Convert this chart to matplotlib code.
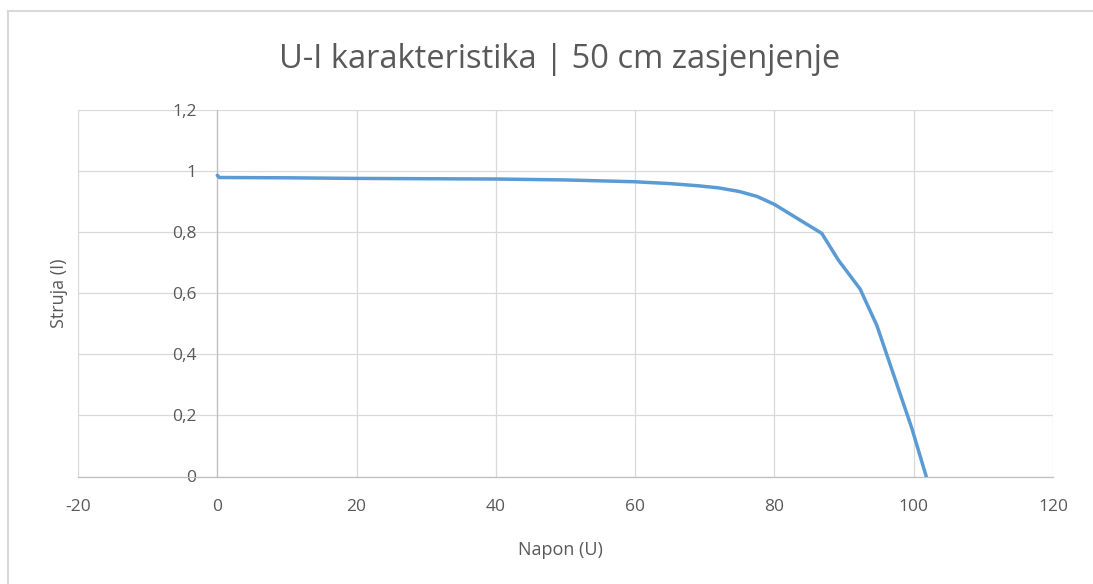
import matplotlib
matplotlib.use("Agg")
import matplotlib.pyplot as plt
from matplotlib.lines import Line2D

# Data
napon_U = [0, 0.3, 10, 20, 30, 40, 50, 60, 65, 69, 72, 75, 77.5, 80, 83.5, 86.8, 89.2, 92.3, 94.7, 99.7, 101.8]
struja_I = [0.986, 0.979, 0.978, 0.976, 0.975, 0.974, 0.971, 0.965, 0.959, 0.952, 0.945, 0.933, 0.917, 0.891,
            0.842, 0.796, 0.708, 0.614, 0.495, 0.16, 0.0]
x_ticks = [-20, 0, 20, 40, 60, 80, 100, 120]
y_ticks = [0, 0.2, 0.4, 0.6, 0.8, 1.0, 1.2]
y_tick_labels = ["0", "0,2", "0,4", "0,6", "0,8", "1", "1,2"]
title = "U-I karakteristika | 50 cm zasjenjenje"
x_label = "Napon (U)"
y_label = "Struja (I)"

plt.rcParams['font.family'] = ['Open Sans', 'DejaVu Sans']
W, H = 1093, 584
fig = plt.figure(figsize=(W / 100, H / 100), dpi=100)
fig.patch.set_facecolor("white")

# chart border (outer frame)
bc = "#d9d9d9"
fig.add_artist(Line2D([7.5 / W, 7.5 / W], [0, 1 - 11 / H], color=bc, lw=1.5, transform=fig.transFigure))
fig.add_artist(Line2D([7.5 / W, 1], [1 - 11 / H, 1 - 11 / H], color=bc, lw=1.5, transform=fig.transFigure))

left, right, top, bottom = 78 / W, 1053 / W, 110 / H, 476.5 / H
ax = fig.add_axes([left, 1 - bottom, right - left, bottom - top])

ax.plot(napon_U, struja_I, color="#5b9bd5", lw=2.5, solid_capstyle="round", solid_joinstyle="round", zorder=5)

ax.set_xlim(-20, 120)
ax.set_ylim(0, 1.2)
ax.set_xticks(x_ticks)
ax.set_xticklabels([str(v) for v in x_ticks])
ax.set_yticks(y_ticks)
ax.set_yticklabels(y_tick_labels)

ax.grid(True, color="#d9d9d9", lw=0.9)
ax.set_axisbelow(True)
for s in ["top", "right"]:
    ax.spines[s].set_visible(False)
ax.spines["left"].set_position(("data", 0))
ax.spines["left"].set_color("#bfbfbf")
ax.spines["bottom"].set_color("#bfbfbf")
ax.spines["left"].set_linewidth(0.9)
ax.spines["bottom"].set_linewidth(0.9)

ax.tick_params(axis="both", length=0, labelsize=12.5, labelcolor="#595959")
ax.tick_params(axis="x", pad=16)
ax.tick_params(axis="y", pad=15)

fig.text((left + right) / 2 - 0.005, 1 - 60 / H, title, ha="center", va="center", fontsize=23.5, color="#595959")
fig.text((left + right) / 2 - 0.005, 1 - 550 / H, x_label, ha="center", va="center", fontsize=13, color="#595959")
fig.text(59 / W, 1 - 293 / H, y_label, ha="center", va="center", rotation=90, fontsize=13, color="#595959")

fig.savefig("out.png", dpi=100, facecolor="white")
